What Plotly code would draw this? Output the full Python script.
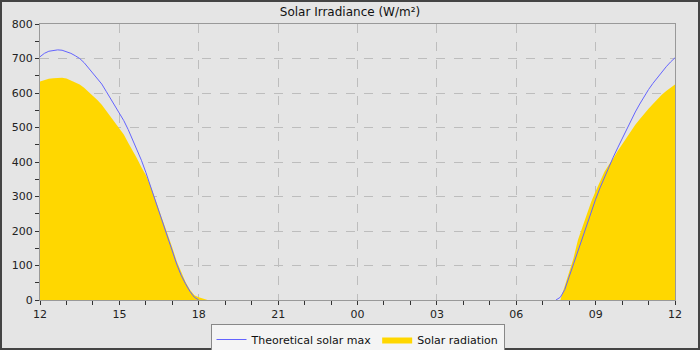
import plotly.graph_objects as go

# ---- data ----
aft_times = ["12:00","12:10","12:20","12:30","12:40","12:50","13:00","13:10","13:20","13:30",
             "13:40","13:50","14:00","14:10","14:20","14:30","14:40","14:50","15:00","15:10",
             "15:20","15:30","15:40","15:50","16:00","16:10","16:20","16:30","16:40","16:50",
             "17:00","17:10","17:20","17:30","17:40","17:50","18:00","18:10","18:20"]
aft_theoretical = [705,715,721,724,725,724,720,715,708,700,
                   688,673,657,642,626,605,584,564,544,520,
                   494,466,438,405,370,333,294,255,216,180,
                   142,104,72,47,25,8,0,None,None]
aft_radiation = [633,638,641,643,644,644,642,636,631,625,
                 615,604,592,580,566,549,531,515,497,480,
                 456,435,410,385,362,333,298,262,228,192,
                 152,112,80,52,30,14,8,4,0]

morn_times = ["07:30","07:40","07:50","08:00","08:10","08:20","08:30","08:40","08:50","09:00",
              "09:10","09:20","09:30","09:40","09:50","10:00","10:10","10:20","10:30","10:40",
              "10:50","11:00","11:10","11:20","11:30","11:40","11:50","12:00"]
morn_theoretical = [0,8,30,65,105,142,180,218,255,292,
                    325,356,385,414,441,468,495,520,545,568,
                    590,610,628,645,661,676,690,702]
morn_radiation = [None,0,40,80,122,175,212,248,285,315,
                  345,372,392,410,432,452,472,490,508,524,
                  540,554,568,582,595,606,615,625]

day1 = "2024-06-01 "
day2 = "2024-06-02 "
gap_time = "2024-06-02 00:00"

x_all = [day1 + t for t in aft_times] + [gap_time] + [day2 + t for t in morn_times]
y_theo = aft_theoretical + [None] + morn_theoretical
y_rad = aft_radiation + [None] + morn_radiation

FONT = "DejaVu Sans"
BG = "#e5e5e5"

fig = go.Figure()
fig.add_trace(go.Scatter(
    x=x_all, y=y_rad, name="Solar radiation", mode="lines",
    line=dict(width=0, color="#ffd700"), fill="tozeroy", fillcolor="#ffd700",
    connectgaps=False))
fig.add_trace(go.Scatter(
    x=x_all, y=y_theo, name="Theoretical solar max", mode="lines",
    line=dict(width=1, color="#6464ff"), connectgaps=False))

W, H = 700, 350
L, R, T, B = 40, 25, 24, 50
pw, ph = W - L - R, H - T - B

fig.update_layout(
    width=W, height=H,
    margin=dict(l=L, r=R, t=T, b=B, autoexpand=False),
    paper_bgcolor=BG, plot_bgcolor=BG,
    font=dict(family=FONT, size=11, color="#222222"),
    title=dict(text="Solar Irradiance (W/m²)", x=0.5, xanchor="center",
               y=1 - 12 / H, yanchor="middle", yref="container",
               font=dict(family=FONT, size=12, color="#111111")),
    showlegend=True,
    legend=dict(orientation="h", x=0.5, xanchor="center", y=-24 / ph, yanchor="top",
                bgcolor="#f4f4f4", bordercolor="#888888", borderwidth=1,
                traceorder="reversed", itemwidth=30,
                font=dict(family=FONT, size=11, color="#111111")),
    xaxis=dict(
        type="date", range=["2024-06-01 12:00", "2024-06-02 12:00"],
        tick0="2024-06-01 12:00", dtick=3 * 3600000, tickformat="%H",
        showgrid=True, gridcolor="#bdbdbd", griddash="dash", gridwidth=1,
        showline=True, linecolor="#999999", linewidth=1, mirror=True,
        ticks="outside", ticklen=4, tickcolor="#333333",
        minor=dict(dtick=3600000, ticks="outside", ticklen=4, tickcolor="#333333", showgrid=False),
        zeroline=False),
    yaxis=dict(
        range=[0, 800], dtick=100,
        showgrid=True, gridcolor="#bdbdbd", griddash="dash", gridwidth=1,
        showline=True, linecolor="#999999", linewidth=1, mirror=True,
        ticks="outside", ticklen=4, tickcolor="#333333",
        minor=dict(dtick=50, ticks="outside", ticklen=4, tickcolor="#333333", showgrid=False),
        zeroline=False),
    shapes=[dict(type="rect", xref="paper", yref="paper",
                 x0=(-L + 1) / pw, x1=(pw + R - 1) / pw,
                 y0=(-B + 1) / ph, y1=(ph + T - 1) / ph,
                 line=dict(color="#444444", width=2), fillcolor="rgba(0,0,0,0)", layer="above")],
)

fig.write_html("out.html")
